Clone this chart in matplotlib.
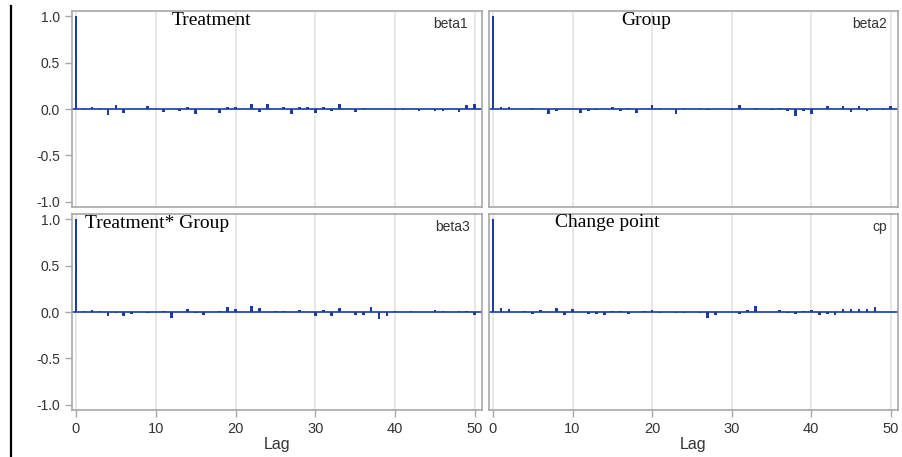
import matplotlib
matplotlib.use("Agg")
import matplotlib.pyplot as plt
from matplotlib.lines import Line2D
import numpy as np

lags = list(range(51))

beta1 = [1.0, -0.01, 0.02, 0.01, -0.06, 0.04, -0.04, 0, 0, 0.03, 0, -0.03, 0, -0.02, 0.02,
         -0.05, 0, -0.01, -0.04, 0.02, 0.02, 0, 0.05, -0.03, 0.05, 0, 0.02, -0.05, 0.02, 0.02,
         -0.04, 0.02, -0.02, 0.05, 0, -0.03, 0.01, 0, 0, 0, -0.01, -0.01, 0, -0.02, 0, -0.02,
         -0.02, 0, -0.03, 0.04, 0.05]
beta2 = [1.0, 0.02, 0.02, 0, 0, 0.01, 0, -0.05, -0.02, 0, 0, -0.04, -0.02, -0.01, 0, 0.02,
         -0.02, 0.01, -0.04, 0, 0.04, 0.01, 0, -0.05, 0.01, 0, 0.01, -0.01, 0, 0, -0.01, 0.04,
         0, 0.01, 0, -0.01, 0.01, -0.02, -0.07, -0.02, -0.05, 0, 0.03, 0, 0.03, -0.03, 0.03,
         -0.02, 0, -0.01, 0.03]
beta3 = [1.0, 0.01, 0.02, 0.01, -0.04, -0.01, -0.04, -0.02, 0, -0.01, 0, 0.01, -0.06, 0, 0.03,
         -0.01, -0.03, 0, 0.01, 0.05, 0.03, 0, 0.06, 0.04, 0, 0.01, 0.01, 0, 0.02, 0, -0.04,
         0.02, -0.04, 0.04, 0, -0.03, -0.03, 0.05, -0.08, -0.04, 0.01, 0, 0.01, 0, 0, 0.02,
         0.01, 0, 0.01, 0.01, -0.03]
cp = [1.0, 0.04, 0.03, 0, 0.01, -0.02, 0.02, 0, 0.04, -0.03, 0.03, 0, -0.02, -0.02, -0.03,
      0.01, 0.01, -0.02, 0, 0.01, 0.02, -0.01, 0, -0.01, -0.01, 0, -0.01, -0.06, -0.03, 0, 0,
      -0.02, 0.02, 0.06, 0, 0, 0.02, -0.01, -0.02, 0.01, 0.02, -0.03, -0.02, -0.03, 0.03, 0.03,
      0.03, 0.03, 0.05, 0, 0]

titles = ["Treatment", "Group", "Treatment* Group", "Change point"]
params = ["beta1", "beta2", "beta3", "cp"]
series = [beta1, beta2, beta3, cp]
xticks = [0, 10, 20, 30, 40, 50]
yticks = [-1.0, -0.5, 0.0, 0.5, 1.0]
ytick_labels = ["-1.0", "-0.5", "0.0", "0.5", "1.0"]
xlabel = "Lag"

W, H = 903, 457
fig = plt.figure(figsize=(W / 100, H / 100), dpi=100)
fig.patch.set_facecolor("white")

bar_color = "#1d3c9c"
base_color = "#3558b4"
spine_color = "#a8a8a8"
text_color = "#333333"

lefts = [72, 489]
widths = [410, 409]
tops = [11, 214]
ph = 196

title_pos = [(0.341, 0.952, "center"), (0.384, 0.952, "center"),
             (0.032, 0.952, "left"), (0.161, 0.957, "left")]
param_x = [0.966, 0.973, 0.971, 0.973]

for i in range(4):
    r, c = divmod(i, 2)
    l = lefts[c] / W
    b = 1 - (tops[r] + ph) / H
    ax = fig.add_axes([l, b, widths[c] / W, ph / H])
    ax.set_xlim(-0.5, 50.9)
    ax.set_ylim(-1.054, 1.054)
    ax.set_xticks(xticks)
    ax.set_yticks(yticks)
    ax.grid(axis="x", color="#e3e3e3", lw=1.2, zorder=0)
    ax.set_axisbelow(True)
    ax.axhline(0, color=base_color, lw=1.4, zorder=2)
    ax.bar(lags, series[i], width=0.34, color=bar_color, zorder=3, linewidth=0)
    for s in ax.spines.values():
        s.set_color(spine_color)
        s.set_linewidth(1.2)
    ax.tick_params(colors=spine_color, labelcolor=text_color, length=5, width=1)
    if c == 0:
        ax.set_yticklabels(ytick_labels, fontsize=10, family="Liberation Sans")
    else:
        ax.tick_params(axis="y", left=False, labelleft=False)
    if r == 1:
        ax.set_xticklabels([str(t) for t in xticks], fontsize=10.5, family="Liberation Sans")
    else:
        ax.tick_params(axis="x", bottom=False, labelbottom=False)
    tx, ty, ha = title_pos[i]
    ax.text(tx, ty, titles[i], transform=ax.transAxes, ha=ha, va="center",
            fontsize=14, family="Liberation Serif", color="black")
    ax.text(param_x[i], 0.935, params[i], transform=ax.transAxes, ha="right", va="center",
            fontsize=10, family="Liberation Sans", color=text_color)
    if r == 1:
        cx = (lefts[c] + widths[c] / 2) / W
        fig.text(cx, 1 - 445 / H, xlabel, ha="center", va="center",
                 fontsize=11.5, family="Liberation Sans", color=text_color)

fig.add_artist(Line2D([11.5 / W, 11.5 / W], [0, 1 - 6 / H], transform=fig.transFigure,
                      color="black", lw=1.6))

fig.savefig("out.png", dpi=100, facecolor="white")
